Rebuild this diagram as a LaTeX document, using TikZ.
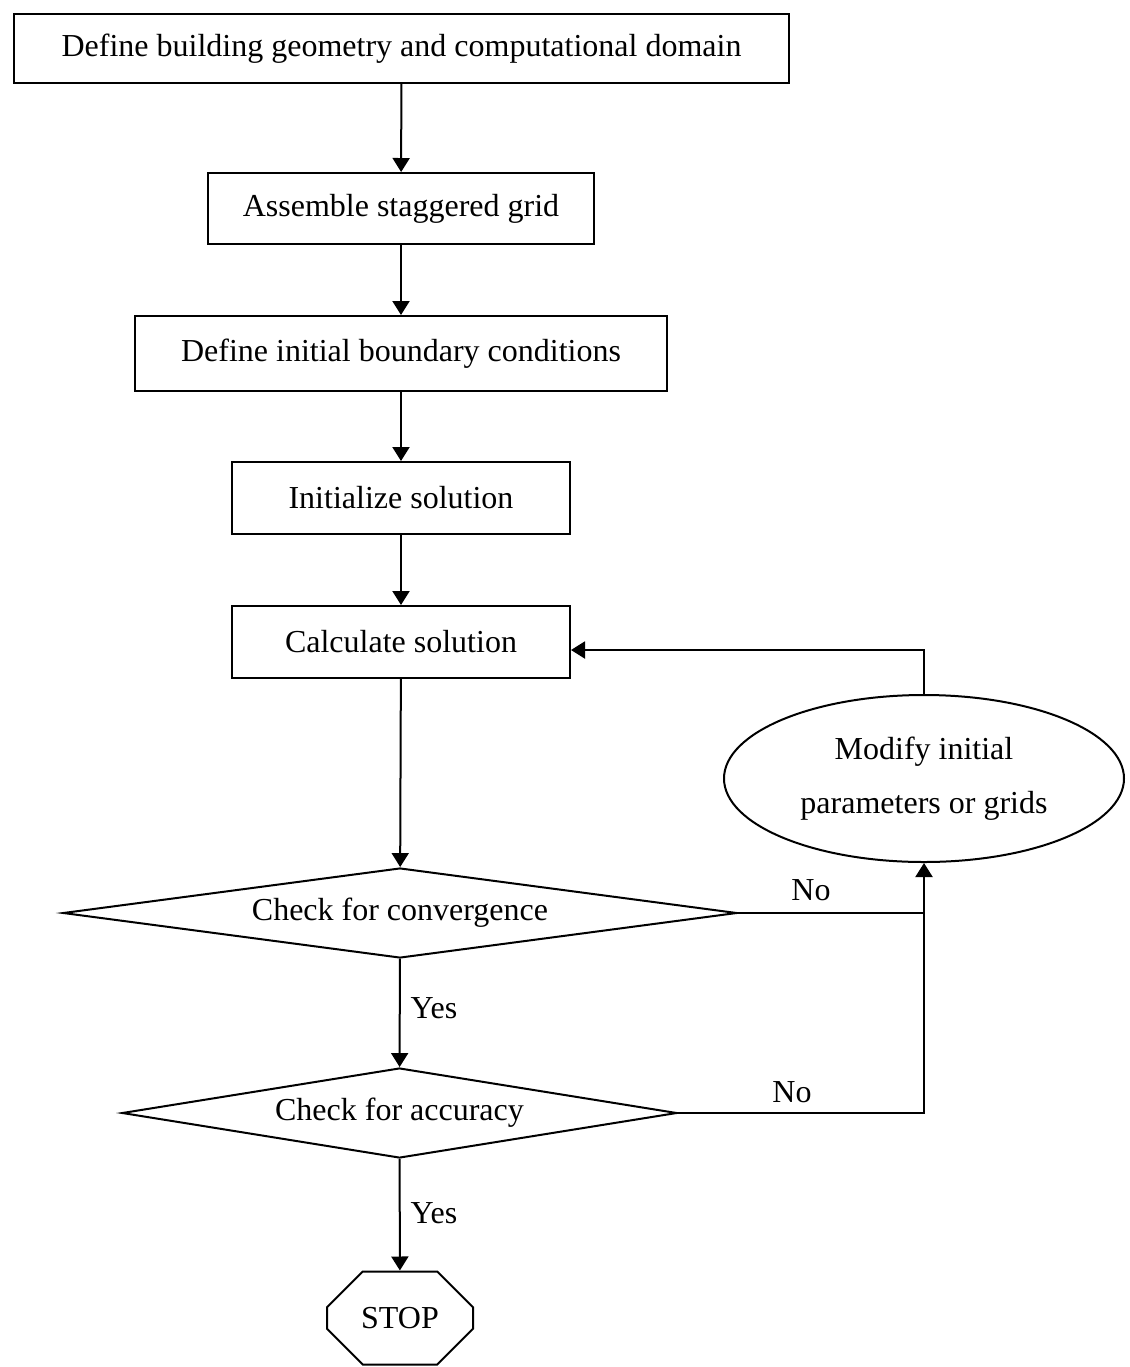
\documentclass[tikz,border=0pt]{standalone}
\usepackage{fontspec}
\setmainfont{Liberation Serif}
\usetikzlibrary{shapes.geometric,shapes.misc,arrows.meta,calc}
\begin{document}
\begin{tikzpicture}[x=0.5pt,y=-0.5pt,
  every node/.style={font=\fontsize{16}{19}\selectfont},
  box/.style={draw, line width=1pt, rectangle, inner sep=0pt},
  dec/.style={draw, line width=1pt, diamond, inner sep=0pt},
  conn/.style={line width=1pt, -{Triangle[width=8.5pt,length=7pt]}},
  wire/.style={line width=1pt},
  lbl/.style={inner sep=0pt}]
\useasboundingbox (0,0) rectangle (1130,1367);
\node[box, minimum width=387.5pt, minimum height=34.5pt] (b1) at (401.5,48.5) {Define building geometry and computational domain};
\node[box, minimum width=193pt, minimum height=35.5pt] (b2) at (401,208.5) {Assemble staggered grid};
\node[box, minimum width=266pt, minimum height=37.5pt] (b3) at (401,353.5) {Define initial boundary conditions};
\node[box, minimum width=169pt, minimum height=36pt] (b4) at (401,498) {Initialize solution};
\node[box, minimum width=169pt, minimum height=36pt] (b5) at (401,642) {Calculate solution};
\node[dec, aspect=7.5, minimum width=337pt, minimum height=45pt] (d1) at (400,913) {Check for convergence};
\node[dec, aspect=6, minimum width=277.5pt, minimum height=45pt] (d2) at (399.5,1113) {Check for accuracy};
\node[draw, line width=1pt, ellipse, inner sep=0pt, minimum width=200pt, minimum height=83.5pt, align=center, font=\fontsize{16}{27}\selectfont] (mod) at (924,778.5) {Modify initial\\parameters or grids};
\node[draw, line width=1pt, chamfered rectangle, chamfered rectangle xsep=13.5pt, chamfered rectangle ysep=12.5pt, inner sep=0pt, minimum width=73pt, minimum height=46.5pt] (stop) at (400,1318) {STOP};
\draw[conn] (b1) -- (b2);
\draw[conn] (b2) -- (b3);
\draw[conn] (b3) -- (b4);
\draw[conn] (b4) -- (b5);
\draw[conn] (b5) -- (d1);
\draw[conn] (d1) -- (d2);
\draw[conn] (d2) -- (stop);
\coordinate (j1) at (924,913);
\coordinate (j2) at (924,1112);
\draw[wire] (d1.east) -- (j1);
\draw[conn] (d2.east) -| (mod.south);
\draw[conn] (mod.north) |- ($(b5.east)+(0,8)$);
\node[lbl] (yes1) at (434,1008) {Yes};
\node[lbl] (yes2) at (434,1213) {Yes};
\node[lbl] (no1) at (811,890) {No};
\node[lbl] (no2) at (792,1092) {No};
\end{tikzpicture}
\end{document}
